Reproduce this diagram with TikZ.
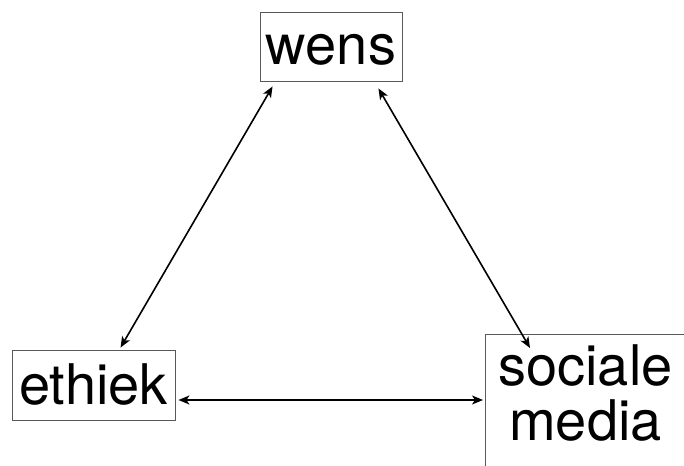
\documentclass[tikz,border=0pt]{standalone}
\usepackage{fontspec}
\setmainfont{TeX Gyre Heros}
\usetikzlibrary{arrows.meta}
\begin{document}
\begin{tikzpicture}[x=1pt,y=-1pt,
  box/.style={draw=black!65, line width=0.9pt, inner sep=0pt, font=\fontsize{56}{55}\selectfont},
  link/.style={line width=1.6pt, {Stealth[length=11pt,width=9pt,inset=3pt]}-{Stealth[length=11pt,width=9pt,inset=3pt]}}]
\useasboundingbox (0,0) rectangle (684,465);
\node[box, anchor=base, minimum width=142pt, text height=53pt, text depth=16pt] (wens) at (331,65) {wens};
\node[box, anchor=base, minimum width=163pt, text height=54pt, text depth=16pt] (ethiek) at (93.5,404) {ethiek};
\node[box, anchor=north west, minimum width=200pt, align=center] (sociale) at (485,334)
  {\rule{0pt}{51pt}sociale\\media\rule[-40pt]{0pt}{40pt}};
\draw[link] ([xshift=13pt,yshift=-5pt]wens.south west) -- ([xshift=109pt,yshift=2pt]ethiek.north west);
\draw[link] ([xshift=-24pt,yshift=-7pt]wens.south east) -- ([xshift=45pt,yshift=-14pt]sociale.north west);
\draw[link] ([xshift=3pt,yshift=-15pt]ethiek.east) -- ([xshift=-2pt,yshift=-66pt]sociale.north west);
\end{tikzpicture}
\end{document}
